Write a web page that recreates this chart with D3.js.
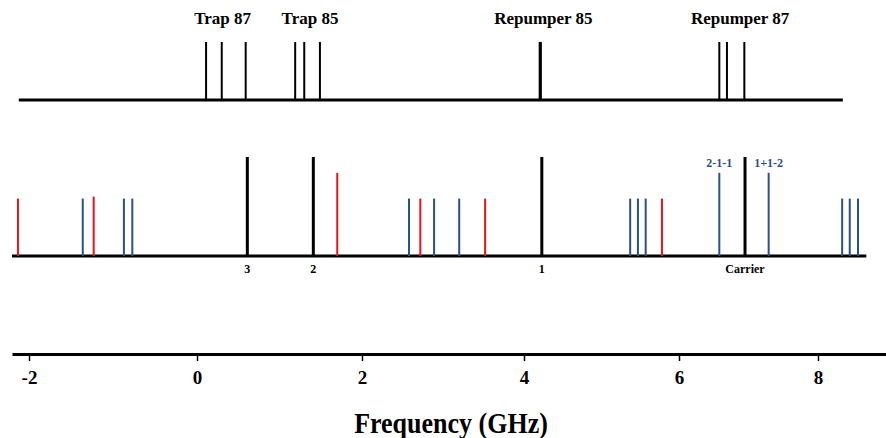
<!DOCTYPE html>
<html>
<head>
<meta charset="utf-8">
<script src="https://cdnjs.cloudflare.com/ajax/libs/d3/7.8.5/d3.min.js"></script>
<style>
  body { margin: 0; background: #fff; }
  svg text { font-family: "Liberation Serif", "Times New Roman", serif; font-weight: bold; }
</style>
</head>
<body>
<div id="chart"></div>
<script>
// frequency ticks (GHz)
const tickValues = [-2, 0, 2, 4, 6, 8];
const axisLabel = "Frequency (GHz)";

// top panel: cooling / repumping transitions
const topGroups = ["Trap 87", "Trap 85", "Repumper 85", "Repumper 87"];
const topGroupCenters = [0.31, 1.37, 4.25, 6.88];
const topFreqs = [0.11, 0.30, 0.59, 1.19, 1.30, 1.49, 4.21, 6.58, 6.69, 6.94];
const topThick = [false, false, false, false, false, false, true, false, false, false];

// middle panel: modulation sidebands
const sideFreqs = [-2.13, -1.36, -1.23, -0.87, -0.77, 0.61, 1.41, 1.70, 2.58, 2.72, 2.89, 3.20, 3.52,
                   4.23, 5.37, 5.47, 5.57, 5.78, 6.58, 6.95, 7.29, 8.35, 8.46, 8.58];
const sideAmps  = [0.58, 0.58, 0.60, 0.58, 0.58, 1, 1, 0.84, 0.58, 0.58, 0.58, 0.58, 0.58,
                   1, 0.58, 0.58, 0.58, 0.58, 0.84, 1, 0.84, 0.58, 0.58, 0.58];
const sideKinds = ["red", "blue", "red", "blue", "blue", "black", "black", "red", "blue", "red", "blue", "blue", "red",
                   "black", "blue", "blue", "blue", "red", "blue", "black", "blue", "blue", "blue", "blue"];
const sideBelow = {5: "3", 6: "2", 13: "1", 19: "Carrier"};
const sideAbove = {18: "2-1-1", 20: "1+1-2"};

const W = 886, H = 438;
const colors = {black: "#000", red: "#e8131b", blue: "#2c5183"};

const svg = d3.select("#chart").append("svg")
  .attr("width", W).attr("height", H);

// piecewise scale: the original axis is not evenly spaced
const x = d3.scaleLinear()
  .domain([-2.2, -2, 0, 2, 4, 6, 8, 9])
  .range([12, 29, 197, 362, 524, 679, 818, 887]);

const yTop = d3.scaleLinear().domain([0, 1]).range([100, 42]);
const yMid = d3.scaleLinear().domain([0, 1]).range([256, 157]);

// ---- top panel
svg.append("line")
  .attr("x1", x(-2.12)).attr("x2", x(8.36))
  .attr("y1", yTop(0)).attr("y2", yTop(0))
  .attr("stroke", "#000").attr("stroke-width", 3);

svg.selectAll(".topLine").data(topFreqs).join("line")
  .attr("class", "topLine")
  .attr("x1", d => x(d)).attr("x2", d => x(d))
  .attr("y1", yTop(0)).attr("y2", yTop(1))
  .attr("stroke", "#000")
  .attr("stroke-width", (d, i) => topThick[i] ? 3.2 : 2);

svg.selectAll(".topLabel").data(topGroups).join("text")
  .attr("class", "topLabel")
  .attr("x", (d, i) => x(topGroupCenters[i]))
  .attr("y", 24)
  .attr("text-anchor", "middle")
  .attr("font-size", "17px")
  .text(d => d);

// ---- middle panel
svg.append("line")
  .attr("x1", x(-2.2)).attr("x2", x(8.7))
  .attr("y1", yMid(0)).attr("y2", yMid(0))
  .attr("stroke", "#000").attr("stroke-width", 3);

svg.selectAll(".side").data(sideFreqs).join("line")
  .attr("class", "side")
  .attr("x1", d => x(d)).attr("x2", d => x(d))
  .attr("y1", yMid(0)).attr("y2", (d, i) => yMid(sideAmps[i]))
  .attr("stroke", (d, i) => colors[sideKinds[i]])
  .attr("stroke-width", (d, i) => sideKinds[i] == "black" ? 3 : 2);

Object.keys(sideBelow).forEach(i => {
  svg.append("text")
    .attr("x", x(sideFreqs[i])).attr("y", 273)
    .attr("text-anchor", "middle").attr("font-size", "12px")
    .text(sideBelow[i]);
});
Object.keys(sideAbove).forEach(i => {
  svg.append("text")
    .attr("x", x(sideFreqs[i])).attr("y", yMid(sideAmps[i]) - 6)
    .attr("text-anchor", "middle").attr("font-size", "12px")
    .attr("fill", colors.blue)
    .text(sideAbove[i]);
});

// ---- frequency axis
const axisY = 354;
const ax = svg.append("g")
  .attr("transform", "translate(0," + axisY + ")")
  .call(d3.axisBottom(x).tickValues(tickValues).tickFormat(d => String(d))
    .tickSize(7).tickSizeOuter(0).tickPadding(10));
ax.attr("font-family", null);
ax.select(".domain").attr("stroke-width", 3);
ax.selectAll(".tick line").attr("stroke-width", 1.5);
ax.selectAll(".tick text")
  .attr("font-size", "19px")
  .attr("fill", "#000");

svg.append("text")
  .attr("transform", "translate(451,433) scale(1,1.1)")
  .attr("text-anchor", "middle")
  .attr("font-size", "26px")
  .text(axisLabel);
</script>
</body>
</html>
